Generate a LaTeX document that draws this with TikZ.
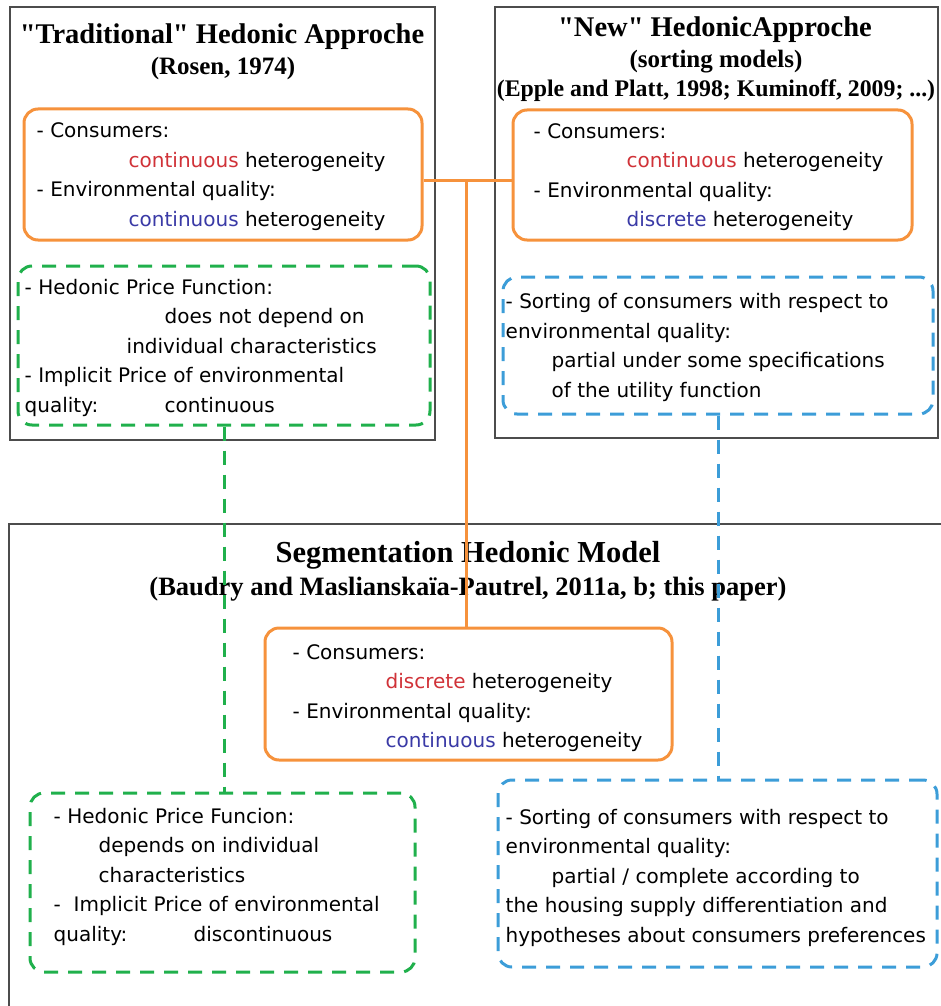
\documentclass[tikz,border=0pt]{standalone}
\usepackage{fontspec}
\setmainfont{DejaVu Sans}
\newfontfamily\headfont{Liberation Serif}
\definecolor{hedorange}{RGB}{246,146,60}
\definecolor{hedgreen}{RGB}{32,176,76}
\definecolor{hedblue}{RGB}{60,157,216}
\definecolor{hedred}{RGB}{208,50,56}
\definecolor{hednavy}{RGB}{58,58,166}
\newcommand{\hred}[1]{\textcolor{hedred}{#1}}
\newcommand{\hblue}[1]{\textcolor{hednavy}{#1}}

\begin{document}
\begin{tikzpicture}[x=1pt,y=-1pt,
  frame/.style={draw=black!70,line width=1.2pt},
  orangebox/.style={draw=hedorange,line width=3pt,rounded corners=14pt},
  greenbox/.style={draw=hedgreen,line width=3pt,rounded corners=14pt,dash pattern=on 14pt off 10pt},
  bluebox/.style={draw=hedblue,line width=3pt,rounded corners=14pt,dash pattern=on 14pt off 10pt},
  boxtext/.style={anchor=west,align=left,inner sep=0pt,font=\fontsize{20}{29.5}\selectfont},
  head/.style={anchor=base,inner sep=0pt,font=\headfont\bfseries\fontsize{28.5}{34}\selectfont},
  subhead/.style={anchor=base,inner sep=0pt,font=\headfont\bfseries\fontsize{25}{29}\selectfont}]
\useasboundingbox (0,0) rectangle (941,1006);

\node[frame,minimum width=425pt,minimum height=433pt] (trad) at (222.5,223.5) {};
\node[frame,minimum width=443pt,minimum height=431pt] (new) at (716.5,222.5) {};
\draw[frame] (941,524) -- (9,524) -- (9,1006);

\node[head] (tradtitle) at (222,44) {"Traditional" Hedonic Approche};
\node[subhead] (tradref) at (223,75) {(Rosen, 1974)};
\node[head] (newtitle) at (715,37) {"New" HedonicApproche};
\node[subhead] (newsub) at (716,68) {(sorting models)};
\node[subhead,font=\headfont\bfseries\fontsize{23.8}{29}\selectfont] (newref) at (716,97) {(Epple and Platt, 1998; Kuminoff, 2009; ...)};
\node[head,font=\headfont\bfseries\fontsize{30.5}{34}\selectfont] (segtitle) at (468,562) {Segmentation Hedonic Model};
\node[subhead,font=\headfont\bfseries\fontsize{26.5}{29}\selectfont] (segref) at (468,595) {(Baudry and Maslianskaïa-Pautrel, 2011a, b; this paper)};

\node[orangebox,minimum width=398pt,minimum height=131pt] (tradcons) at (223,174.5) {};
\node[boxtext] (tradconstxt) at ([xshift=14pt,yshift=-2pt]tradcons.west)
  {- Consumers:\\ \hspace*{92pt}\hred{continuous} heterogeneity\\
   - Environmental quality:\\ \hspace*{92pt}\hblue{continuous} heterogeneity};
\node[orangebox,minimum width=399pt,minimum height=130pt] (newcons) at (712.5,175) {};
\node[boxtext] (newconstxt) at ([xshift=22pt,yshift=-2pt]newcons.west)
  {- Consumers:\\ \hspace*{93pt}\hred{continuous} heterogeneity\\
   - Environmental quality:\\ \hspace*{93pt}\hblue{discrete} heterogeneity};

\node[greenbox,minimum width=412pt,minimum height=159pt] (tradprice) at (224,345.5) {};
\node[boxtext] (tradpricetxt) at ([xshift=8pt,yshift=-2pt]tradprice.west)
  {- Hedonic Price Function:\\ \hspace*{140pt}does not depend on\\
   \hspace*{102pt}individual characteristics\\ - Implicit Price of environmental\\
   \makebox[140pt][l]{quality:}continuous};
\node[bluebox,minimum width=430pt,minimum height=137pt] (newsort) at (718,345.5) {};
\node[boxtext] (newsorttxt) at ([xshift=4pt,yshift=-2pt]newsort.west)
  {- Sorting of consumers with respect to\\ environmental quality:\\
   \hspace*{46pt}partial under some specifications\\ \hspace*{46pt}of the utility function};

\node[orangebox,minimum width=407pt,minimum height=132pt] (segcons) at (468.5,694) {};
\node[boxtext] (segconstxt) at ([xshift=29pt,yshift=-4pt]segcons.west)
  {- Consumers:\\ \hspace*{93pt}\hred{discrete} heterogeneity\\
   - Environmental quality:\\ \hspace*{93pt}\hblue{continuous} heterogeneity};
\node[greenbox,minimum width=385pt,minimum height=179pt] (segprice) at (222.5,882.5) {};
\node[boxtext] (segpricetxt) at ([xshift=25pt,yshift=6pt]segprice.west)
  {- Hedonic Price Funcion:\\ \hspace*{45pt}depends on individual\\
   \hspace*{45pt}characteristics\\ -\ \ Implicit Price of environmental\\
   \makebox[140pt][l]{quality:}discontinuous};
\node[bluebox,minimum width=439pt,minimum height=187pt] (segsort) at (717.5,873.5) {};
\node[boxtext] (segsorttxt) at ([xshift=9pt,yshift=-4pt]segsort.west)
  {- Sorting of consumers with respect to\\ environmental quality:\\
   \hspace*{46pt}partial / complete according to\\ the housing supply differentiation and\\
   hypotheses about consumers preferences};

\coordinate (hub) at (466,180);
\path[draw,hedorange,line width=3pt] (tradcons.east |- hub) -- (newcons.west |- hub);
\path[draw,hedorange,line width=3pt] (hub) -- (hub |- segcons.north);
\path[draw,hedgreen,line width=3pt,dash pattern=on 14pt off 10pt] (tradprice.south) -- (tradprice.south |- segprice.north);
\path[draw,hedblue,line width=3pt,dash pattern=on 14pt off 10pt] (newsort.south) -- (newsort.south |- segsort.north);
\end{tikzpicture}
\end{document}
